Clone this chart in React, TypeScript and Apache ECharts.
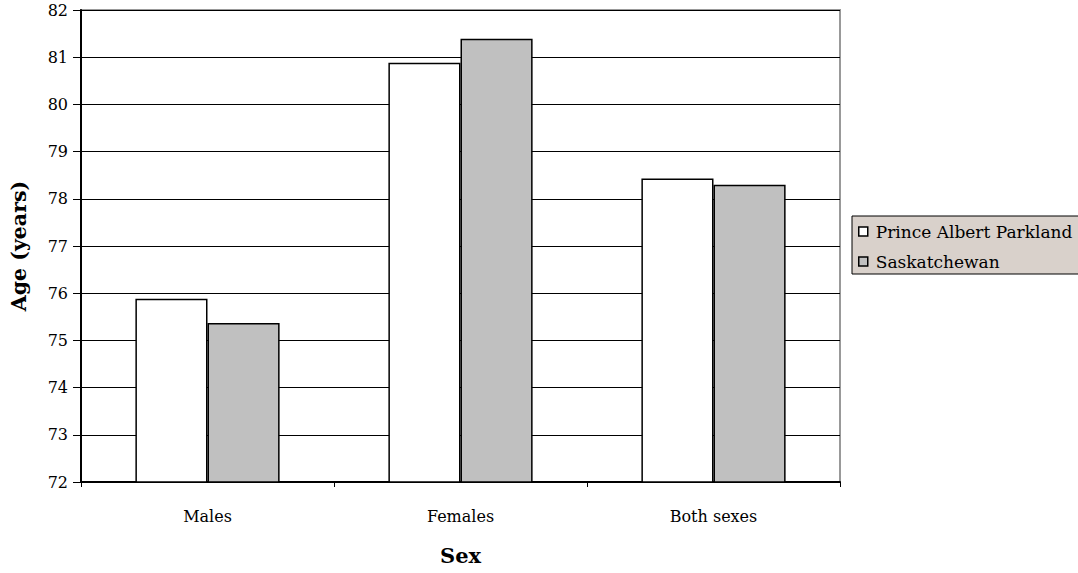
import React, { useEffect, useRef } from "react";
import * as echarts from "echarts";

const categories = ["Males", "Females", "Both sexes"];
const princeAlbertParkland = [75.88, 80.88, 78.43];
const saskatchewan = [75.37, 81.39, 78.3];
const yTicks = { min: 72, max: 82, interval: 1 };

export default function App() {
  const ref = useRef<HTMLDivElement>(null);
  useEffect(() => {
    const chart = echarts.init(ref.current!, null, { renderer: "svg" });
    const font = "DejaVu Serif";
    chart.setOption({
      animation: false,
      backgroundColor: "#ffffff",
      textStyle: { fontFamily: font },
      grid: {
        left: 81,
        right: 238,
        top: 10,
        bottom: 91,
        containLabel: false,
        outerBoundsMode: "none",
        show: true,
        borderColor: "#999999",
        borderWidth: 2,
        backgroundColor: "transparent",
      },
      legend: {
        orient: "vertical",
        left: 852,
        top: 216,
        icon: "rect",
        itemWidth: 9,
        itemHeight: 9,
        itemGap: 13,
        padding: [7, 40, 4, 6],
        backgroundColor: "#d9d1cb",
        borderColor: "#000000",
        borderWidth: 1,
        textStyle: { fontFamily: font, fontSize: 17, color: "#000", padding: [0, 0, 0, 3] },
        data: [
          { name: "Prince Albert Parkland", itemStyle: { color: "#ffffff", borderColor: "#000", borderWidth: 1.5 } },
          { name: "Saskatchewan", itemStyle: { color: "#c0c0c0", borderColor: "#000", borderWidth: 1.5 } },
        ],
      },
      xAxis: {
        type: "category",
        data: categories,
        name: "Sex",
        nameLocation: "middle",
        nameGap: 63,
        nameTextStyle: { fontFamily: font, fontSize: 21, fontWeight: "bold", color: "#000" },
        axisLine: { lineStyle: { color: "#000", width: 2 } },
        axisTick: { show: true, inside: false, length: 5, lineStyle: { color: "#000", width: 1 } },
        axisLabel: { fontFamily: font, fontSize: 16, color: "#000", margin: 26 },
      },
      yAxis: {
        type: "value",
        min: yTicks.min,
        max: yTicks.max,
        interval: yTicks.interval,
        name: "Age (years)",
        nameLocation: "middle",
        nameGap: 52,
        nameTextStyle: { fontFamily: font, fontSize: 20.5, fontWeight: "bold", color: "#000" },
        axisLine: { show: true, lineStyle: { color: "#000", width: 2 } },
        axisTick: { show: true, length: 8, lineStyle: { color: "#000", width: 1 } },
        axisLabel: { fontFamily: font, fontSize: 16, color: "#000", margin: 13 },
        splitLine: { show: true, lineStyle: { color: "#000", width: 1 } },
      },
      series: [
        {
          name: "Prince Albert Parkland",
          type: "bar",
          data: princeAlbertParkland,
          barGap: "0%",
          barCategoryGap: "43%",
          itemStyle: { color: "#ffffff", borderColor: "#000", borderWidth: 1.5 },
        },
        {
          name: "Saskatchewan",
          type: "bar",
          data: saskatchewan,
          itemStyle: { color: "#c0c0c0", borderColor: "#000", borderWidth: 1.5 },
        },
      ],
    });
    return () => chart.dispose();
  }, []);
  return (
    <div
      ref={ref}
      style={{ position: "fixed", left: 0, top: 0, width: 1078, height: 573 }}
    />
  );
}
